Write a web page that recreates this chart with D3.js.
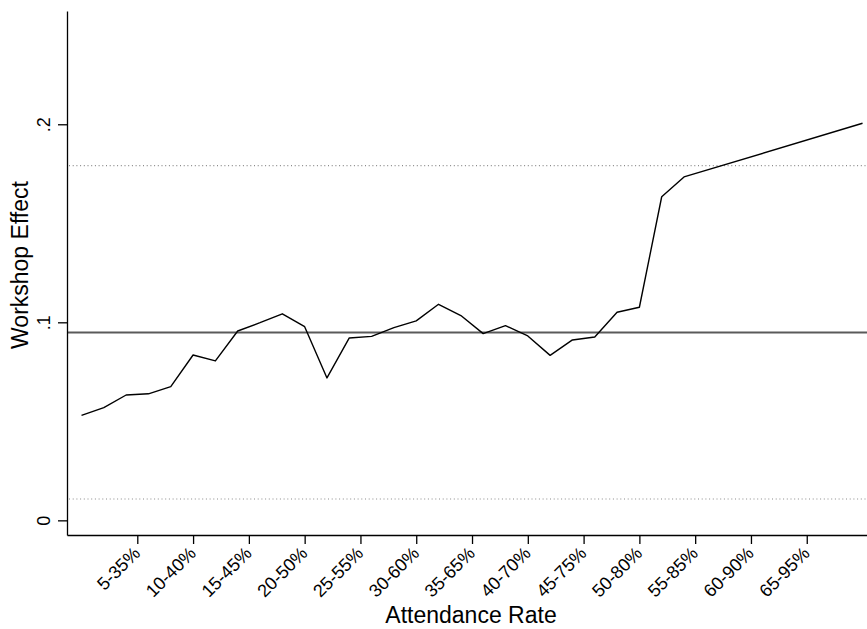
<!DOCTYPE html>
<html>
<head>
<meta charset="utf-8">
<script src="https://cdn.jsdelivr.net/npm/d3@7"></script>
<style>
  html, body { margin: 0; padding: 0; background: #fff; }
  svg { display: block; }
  svg text { font-family: "Liberation Sans", Arial, Helvetica, sans-serif; fill: #000; }
</style>
</head>
<body>
<svg id="chart" width="867" height="629"></svg>
<script>
// Window start (lower bound of attendance window, %) for each estimate
const windowStart = [0, 2, 4, 6, 8, 10, 12, 14, 16, 18, 20, 22, 24, 26, 28,
                     30, 32, 34, 36, 38, 40, 42, 44, 46, 48, 50, 52, 54, 70];
// Estimated workshop effect for each window
const workshopEffect = [0.0530, 0.0569, 0.0633, 0.0639, 0.0675, 0.0835, 0.0805,
                        0.0956, 0.0998, 0.1043, 0.0978, 0.0719, 0.0921, 0.0929,
                        0.0973, 0.1007, 0.1091, 0.1034, 0.0943, 0.0983, 0.0931,
                        0.0833, 0.0911, 0.0926, 0.1051, 0.1076, 0.1634, 0.1734,
                        0.2005];
// Overall estimate and its confidence bounds
const overallEffect = 0.0949;
const ciBounds = [0.0108, 0.1791];

// Axis ticks
const xTickValues = [5, 10, 15, 20, 25, 30, 35, 40, 45, 50, 55, 60, 65];
const xTickLabels = ["5-35%", "10-40%", "15-45%", "20-50%", "25-55%", "30-60%",
                     "35-65%", "40-70%", "45-75%", "50-80%", "55-85%", "60-90%", "65-95%"];
const yTickValues = [0, 0.1, 0.2];
const yTickLabels = ["0", ".1", ".2"];

const svg = d3.select("#chart");
const plot = { left: 67, right: 867, top: 11, bottom: 535 };

const x = d3.scaleLinear().domain([-1.3, 70.4]).range([plot.left, plot.right]);
const y = d3.scaleLinear().domain([-0.0074, 0.2572]).range([plot.bottom, plot.top]);

// Confidence bounds (dotted)
svg.selectAll("line.ci").data(ciBounds).join("line")
  .attr("class", "ci")
  .attr("x1", plot.left + 2).attr("x2", plot.right)
  .attr("y1", d => y(d)).attr("y2", d => y(d))
  .attr("stroke", "#8a8a8a").attr("stroke-width", 1.1)
  .attr("stroke-dasharray", "1 2.7");

// Overall estimate (solid gray)
svg.append("line")
  .attr("x1", plot.left).attr("x2", plot.right)
  .attr("y1", y(overallEffect)).attr("y2", y(overallEffect))
  .attr("stroke", "#5a5a5a").attr("stroke-width", 2);

// Effect by attendance window
const pts = windowStart.map((v, i) => [v, workshopEffect[i]]);
svg.append("path")
  .datum(pts)
  .attr("fill", "none")
  .attr("stroke", "#000")
  .attr("stroke-width", 1.4)
  .attr("stroke-linejoin", "round")
  .attr("d", d3.line().x(d => x(d[0])).y(d => y(d[1])));

// Y axis
const yAxis = svg.append("g")
  .attr("transform", `translate(${plot.left},0)`)
  .call(d3.axisLeft(y).tickValues(yTickValues)
    .tickFormat((d, i) => yTickLabels[i]).tickSize(9).tickSizeOuter(0));
yAxis.attr("font-family", null).attr("font-size", null);
yAxis.select(".domain").attr("stroke", "#000").attr("stroke-width", 1.3);
yAxis.selectAll(".tick line").attr("stroke", "#000").attr("stroke-width", 1.3);
yAxis.selectAll(".tick text")
  .attr("x", null).attr("dy", null)
  .style("font-size", "18px")
  .attr("text-anchor", "middle")
  .attr("transform", "translate(-17,0) rotate(-90)");

// X axis
const xAxis = svg.append("g")
  .attr("transform", `translate(0,${plot.bottom})`)
  .call(d3.axisBottom(x).tickValues(xTickValues)
    .tickFormat((d, i) => xTickLabels[i]).tickSize(9).tickSizeOuter(0));
xAxis.attr("font-family", null).attr("font-size", null);
xAxis.select(".domain").attr("stroke", "#000").attr("stroke-width", 1.3);
xAxis.selectAll(".tick line").attr("stroke", "#000").attr("stroke-width", 1.3);
xAxis.selectAll(".tick text")
  .attr("y", null).attr("dy", "0.35em")
  .style("font-size", "18px")
  .attr("text-anchor", "end")
  .attr("transform", "translate(-1,15) rotate(-45)");

// Axis titles
svg.append("text")
  .attr("x", 471).attr("y", 623)
  .attr("text-anchor", "middle")
  .style("font-size", "23px")
  .text("Attendance Rate");

svg.append("text")
  .attr("transform", "translate(28,265) rotate(-90)")
  .attr("text-anchor", "middle")
  .style("font-size", "23px")
  .text("Workshop Effect");
</script>
</body>
</html>
